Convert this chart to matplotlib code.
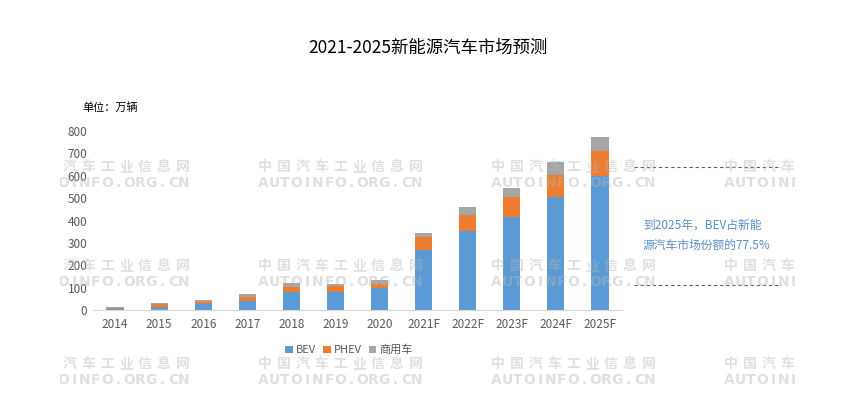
import matplotlib
matplotlib.use("Agg")
import matplotlib.pyplot as plt
import numpy as np
from matplotlib.lines import Line2D
from matplotlib.patches import Rectangle

plt.rcParams["font.family"] = ["Noto Sans CJK SC", "DejaVu Sans"]

# ── Data (万辆) ───────────────────────────────────────────────────────────────
years = ["2014", "2015", "2016", "2017", "2018", "2019", "2020",
         "2021F", "2022F", "2023F", "2024F", "2025F"]
bev = [4, 15, 27, 42, 81, 80, 97, 270, 354, 416, 504, 599]
phev = [3, 10, 9, 18, 23, 26, 19, 55, 71, 89, 99, 112]
commercial = [6, 6, 9, 12, 17, 12, 17, 20, 34, 39, 57, 64]
series_names = ["BEV", "PHEV", "商用车"]
yticks = list(range(0, 801, 100))

title = "2021-2025新能源汽车市场预测"
unit_label = "单位：万辆"
note = "到2025年，BEV占新能\n源汽车市场份额的77.5%"
wm_cn = "中国汽车工业信息网"
wm_en = "AUTOINFO.ORG.CN"

colors = ["#5B9BD5", "#ED7D31", "#A5A5A5"]

W, H = 856, 403
fig = plt.figure(figsize=(W / 100, H / 100), dpi=100)
ax = fig.add_axes([93 / W, 1 - 310 / H, 529 / W, 179 / H])

x = np.arange(len(years))
bottom = np.zeros(len(years))
for vals, name, c in zip([bev, phev, commercial], series_names, colors):
    ax.bar(x, vals, 0.39, bottom=bottom, color=c, label=name, zorder=2)
    bottom += np.array(vals)

ax.set_xlim(-0.5, len(years) - 0.5)
ax.set_ylim(0, 800)
ax.set_xticks(x)
ax.set_xticklabels(years)
ax.set_yticks(yticks)
ax.tick_params(length=0, labelsize=8.5, colors="#595959", pad=4)
ax.tick_params(axis="x", pad=6)
for s in ["top", "right", "left"]:
    ax.spines[s].set_visible(False)
ax.spines["bottom"].set_color("#d9d9d9")

fig.text(428 / W, 1 - 48 / H, title, ha="center", va="center",
         fontsize=12.5, color="#000000")
fig.text(82 / W, 1 - 108 / H, unit_label, ha="left", va="center",
         fontsize=8, color="#000000")

fig.legend(loc="center", bbox_to_anchor=(349 / W, 1 - 350 / H), ncol=3,
           frameon=False, fontsize=8, handlelength=0.7, handleheight=0.7,
           handletextpad=0.3, columnspacing=0.6,
           labelcolor="#595959")

# annotation with dashed guide lines
fig.text(643 / W, 1 - 235 / H, note, ha="left", va="center", fontsize=8.5,
         color="#5a8fc6", linespacing=1.7)
for yy in (167, 285):
    fig.add_artist(Line2D([634 / W, 781 / W], [1 - yy / H, 1 - yy / H],
                          color="#606060", lw=0.8, ls=(0, (3, 2.5))))


# ── Watermark grid ────────────────────────────────────────────────────────────
clip = Rectangle((60 / W, 0), (795 - 60) / W, 1, transform=fig.transFigure,
                 visible=False)
fig.add_artist(clip)


def spaced_text(x0, y0, text, pitch, **kw):
    """Draw *text* one glyph at a time, evenly spaced (pixel units)."""
    for i, ch in enumerate(text):
        t = fig.text((x0 + i * pitch) / W, 1 - y0 / H, ch, ha="center",
                     va="center", fontweight="bold", color="#b4b4b4",
                     alpha=0.42, zorder=5, **kw)
        t.set_clip_path(clip)


for row_y in (167, 266):
    for col_x in (25, 258, 491, 724):
        spaced_text(col_x + 6.5, row_y, wm_cn, 18.9, fontsize=10)
        spaced_text(col_x + 5, row_y + 16, wm_en, 11.0, fontsize=10,
                    family="DejaVu Sans")
for col_x in (25, 258, 491, 724):
    spaced_text(col_x + 6.5, 364, wm_cn, 18.9, fontsize=10)
    spaced_text(col_x + 5, 380, wm_en, 11.0, fontsize=10,
                family="DejaVu Sans")

fig.savefig("out.png", dpi=100)
